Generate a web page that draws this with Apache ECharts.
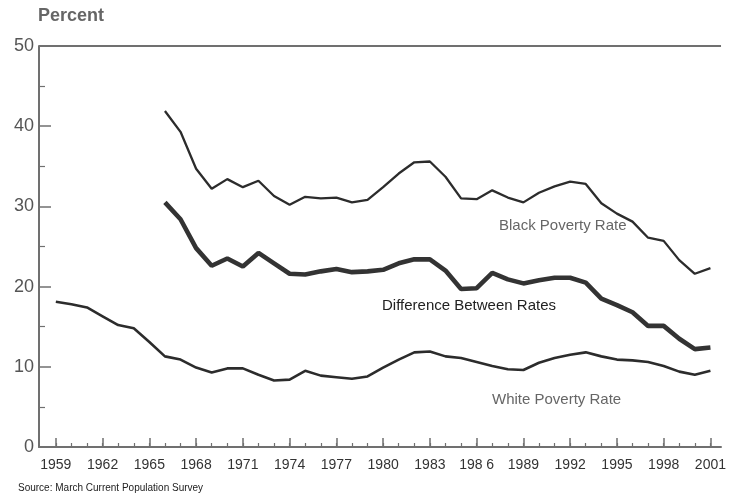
<!DOCTYPE html>
<html>
<head>
<meta charset="utf-8">
<style>
  html, body { margin: 0; padding: 0; background: #ffffff; }
  #chart { width: 729px; height: 496px; }
</style>
<script src="https://cdn.jsdelivr.net/npm/echarts@6/dist/echarts.min.js"></script>
</head>
<body>
<div id="chart"></div>
<script>
// ---- data ----
const whiteYears = [1959,1960,1961,1962,1963,1964,1965,1966,1967,1968,1969,1970,1971,1972,1973,1974,1975,1976,1977,1978,1979,1980,1981,1982,1983,1984,1985,1986,1987,1988,1989,1990,1991,1992,1993,1994,1995,1996,1997,1998,1999,2000,2001];
const whiteRate = [18.1,17.8,17.4,16.3,15.2,14.8,13.1,11.3,10.9,9.9,9.3,9.8,9.8,9.0,8.3,8.4,9.5,8.9,8.7,8.5,8.8,9.9,10.9,11.8,11.9,11.3,11.1,10.6,10.1,9.7,9.6,10.5,11.1,11.5,11.8,11.3,10.9,10.8,10.6,10.1,9.4,9.0,9.5];
const blackYears = [1966,1967,1968,1969,1970,1971,1972,1973,1974,1975,1976,1977,1978,1979,1980,1981,1982,1983,1984,1985,1986,1987,1988,1989,1990,1991,1992,1993,1994,1995,1996,1997,1998,1999,2000,2001];
const blackRate = [41.9,39.3,34.7,32.2,33.4,32.4,33.2,31.3,30.2,31.2,31.0,31.1,30.5,30.8,32.4,34.1,35.5,35.6,33.7,31.0,30.9,32.0,31.1,30.5,31.7,32.5,33.1,32.8,30.4,29.1,28.1,26.1,25.7,23.3,21.6,22.3];
const diffRate = [30.5,28.4,24.8,22.6,23.5,22.5,24.2,22.9,21.6,21.5,21.9,22.2,21.8,21.9,22.1,22.9,23.4,23.4,22.0,19.7,19.8,21.7,20.9,20.4,20.8,21.1,21.1,20.5,18.5,17.7,16.8,15.1,15.1,13.5,12.2,12.4];
const xTickYears = [1959,1962,1965,1968,1971,1974,1977,1980,1983,1986,1989,1992,1995,1998,2001];
const xTickLabels = ['1959','1962','1965','1968','1971','1974','1977','1980','1983','198 6','1989','1992','1995','1998','2001'];
const yTicks = [0,10,20,30,40,50];

const pairs = (xs, ys) => xs.map((x, i) => [x, ys[i]]);
const labelFor = {};
xTickYears.forEach((y, i) => { labelFor[y] = xTickLabels[i]; });

const FONT = '"Liberation Sans", Arial, Helvetica, sans-serif';
const AXIS = '#707070';
const LINE = '#2c2c2c';

const chart = echarts.init(document.getElementById('chart'), null, { renderer: 'canvas' });
chart.setOption({
  animation: false,
  backgroundColor: '#ffffff',
  grid: { left: 39, top: 46, right: 0, bottom: 49, containLabel: false },
  xAxis: [
    {
      type: 'value',
      min: 1957.92,
      max: 2001.68,
      axisLine: { show: true, lineStyle: { color: AXIS, width: 2 } },
      axisTick: { show: true, inside: true, length: 9, customValues: xTickYears, lineStyle: { color: AXIS, width: 1.5 } },
      axisLabel: {
        show: true, customValues: xTickYears, margin: 11,
        fontFamily: FONT, fontSize: 14, color: '#333',
        formatter: v => labelFor[Math.round(v)] || ''
      },
      splitLine: { show: false }
    },
    {
      type: 'value',
      position: 'bottom',
      min: 1957.92,
      max: 2001.68,
      axisLine: { show: false },
      axisTick: { show: true, inside: true, length: 4, customValues: whiteYears, lineStyle: { color: AXIS, width: 1.2 } },
      axisLabel: { show: false },
      splitLine: { show: false }
    }
  ],
  yAxis: {
    type: 'value',
    min: 0,
    max: 50,
    interval: 10,
    axisLine: { show: true, lineStyle: { color: AXIS, width: 2 } },
    axisTick: { show: true, inside: true, length: 12, lineStyle: { color: AXIS, width: 1.5 } },
    minorTick: { show: true, splitNumber: 2, length: 6, lineStyle: { color: AXIS, width: 1.2 } },
    axisLabel: {
      margin: 5, fontFamily: FONT, fontSize: 18, color: '#555',
      customValues: yTicks
    },
    splitLine: { show: false }
  },
  series: [
    {
      name: 'White Poverty Rate', type: 'line', xAxisIndex: 0,
      data: pairs(whiteYears, whiteRate), showSymbol: false,
      lineStyle: { color: LINE, width: 2.6 },
      markLine: {
        silent: true, symbol: 'none', label: { show: false },
        lineStyle: { color: AXIS, width: 2, type: 'solid' },
        data: [{ yAxis: 50 }]
      }
    },
    {
      name: 'Black Poverty Rate', type: 'line', xAxisIndex: 0,
      data: pairs(blackYears, blackRate), showSymbol: false,
      lineStyle: { color: LINE, width: 2.3 }
    },
    {
      name: 'Difference Between Rates', type: 'line', xAxisIndex: 0,
      data: pairs(blackYears, diffRate), showSymbol: false,
      lineStyle: { color: '#333', width: 4.6 }
    }
  ],
  graphic: [
    { type: 'text', left: 38, top: 7, style: { text: 'Percent', fontFamily: FONT, fontSize: 18, fontWeight: 'bold', fill: '#666' } },
    { type: 'text', left: 499, top: 218, style: { text: 'Black Poverty Rate', fontFamily: FONT, fontSize: 15, fill: '#666' } },
    { type: 'text', left: 382, top: 298, style: { text: 'Difference Between Rates', fontFamily: FONT, fontSize: 15, fill: '#222' } },
    { type: 'text', left: 492, top: 392, style: { text: 'White Poverty Rate', fontFamily: FONT, fontSize: 15, fill: '#666' } },
    { type: 'text', left: 18, top: 483, style: { text: 'Source: March Current Population Survey', fontFamily: FONT, fontSize: 10, fill: '#222' } }
  ]
});
</script>
</body>
</html>
